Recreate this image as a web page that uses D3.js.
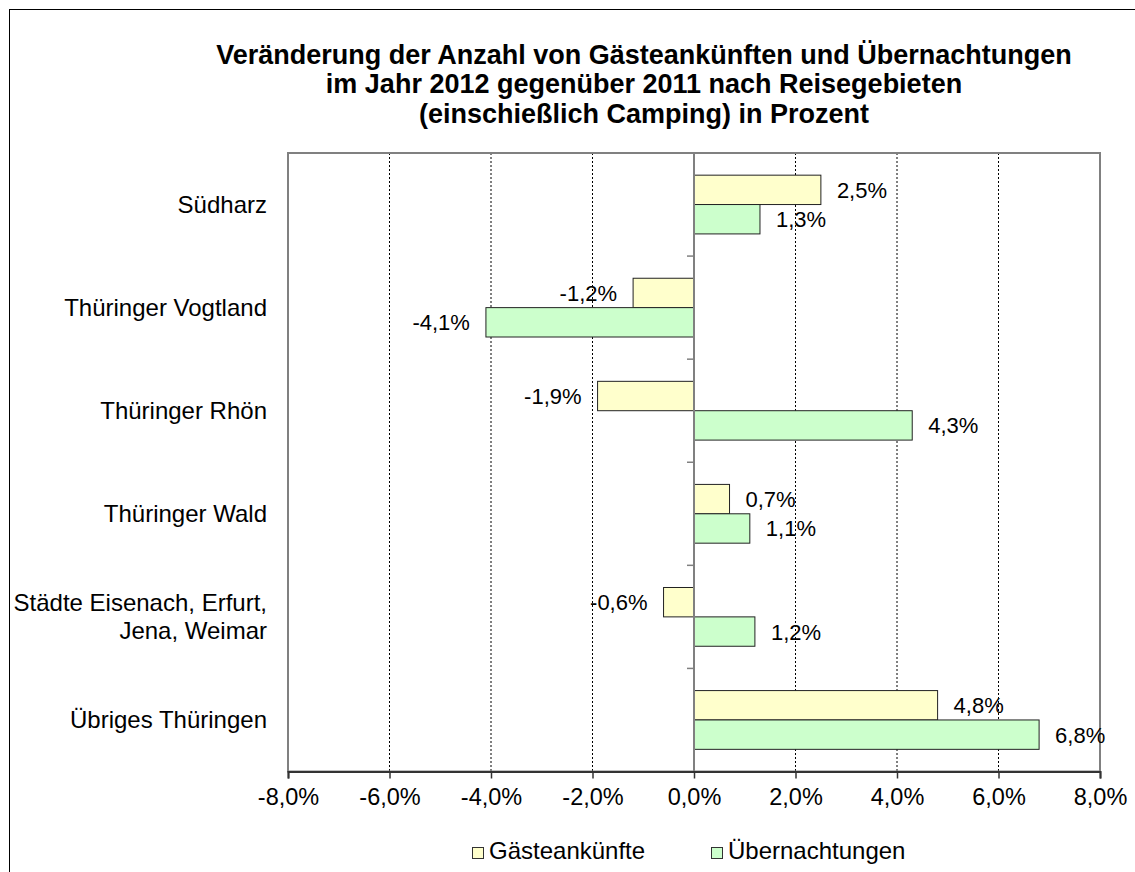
<!DOCTYPE html>
<html>
<head>
<meta charset="utf-8">
<script src="https://cdn.jsdelivr.net/npm/d3@7"></script>
<style>
  body { margin: 0; background: #fff; }
  text { font-family: "Liberation Sans", Arial, sans-serif; fill: #000; }
</style>
</head>
<body>
<div id="chart"></div>
<script>
const categories = [
    ["Südharz"],
    ["Thüringer Vogtland"],
    ["Thüringer Rhön"],
    ["Thüringer Wald"],
    ["Städte Eisenach, Erfurt,", "Jena, Weimar"],
    ["Übriges Thüringen"]
];
const gaesteankuenfte = [2.5, -1.2, -1.9, 0.7, -0.6, 4.8];
const uebernachtungen = [1.3, -4.1, 4.3, 1.1, 1.2, 6.8];
const seriesNames = ["Gästeankünfte", "Übernachtungen"];
const seriesColors = ["#FFFFCC", "#CCFFCC"];
const xTicks = [-8, -6, -4, -2, 0, 2, 4, 6, 8];
const titleLines = [
    "Veränderung der Anzahl von Gästeankünften und Übernachtungen",
    "im Jahr 2012 gegenüber 2011 nach Reisegebieten",
    "(einschießlich Camping) in Prozent"
];

function drawChart() {
    const width = 1135, height = 872;
    const plot = { left: 288, right: 1100, top: 153, bottom: 771.5 };
    const fmt = v => d3.format(".1f")(v).replace(".", ",").replace("−", "-") + "%";

    const svg = d3.select("#chart")
        .append("svg")
        .attr("width", width)
        .attr("height", height)
        .style("display", "block");

    // outer border
    svg.append("rect")
        .attr("x", 9.5).attr("y", 9.5)
        .attr("width", 1140).attr("height", 880)
        .attr("fill", "none")
        .attr("stroke", "#000")
        .attr("stroke-width", 1);

    // title
    svg.append("g")
        .selectAll("text")
        .data(titleLines)
        .enter()
        .append("text")
        .attr("x", 644)
        .attr("y", (d, i) => 63.5 + i * 29.5)
        .attr("text-anchor", "middle")
        .style("font-size", "27px")
        .style("font-weight", "bold")
        .text(d => d);

    const xScale = d3.scaleLinear()
        .domain([-8, 8])
        .range([plot.left, plot.right]);

    const yScale = d3.scaleBand()
        .domain(d3.range(categories.length))
        .range([plot.top, plot.bottom])
        .paddingInner(0.43)
        .paddingOuter(0.215);

    const subScale = d3.scaleBand()
        .domain([0, 1])
        .range([0, yScale.bandwidth()]);

    // gridlines
    svg.append("g")
        .selectAll("line")
        .data(xTicks.filter(t => t !== 0 && Math.abs(t) !== 8))
        .enter()
        .append("line")
        .attr("x1", d => xScale(d)).attr("x2", d => xScale(d))
        .attr("y1", plot.top).attr("y2", plot.bottom)
        .attr("stroke", "#000")
        .attr("stroke-width", 1)
        .attr("stroke-dasharray", "2,2");

    // plot frame
    svg.append("rect")
        .attr("x", plot.left).attr("y", plot.top)
        .attr("width", plot.right - plot.left)
        .attr("height", plot.bottom - plot.top)
        .attr("fill", "none")
        .attr("stroke", "#808080")
        .attr("stroke-width", 2);

    const rows = categories.map((c, i) => ({ i, values: [gaesteankuenfte[i], uebernachtungen[i]] }));
    const bars = rows.flatMap(r => r.values.map((v, s) => ({ i: r.i, s, v })));

    svg.append("g")
        .selectAll("rect")
        .data(bars)
        .enter()
        .append("rect")
        .attr("x", d => xScale(Math.min(0, d.v)))
        .attr("y", d => yScale(d.i) + subScale(d.s))
        .attr("width", d => Math.abs(xScale(d.v) - xScale(0)))
        .attr("height", subScale.bandwidth())
        .attr("fill", d => seriesColors[d.s])
        .attr("stroke", "#222")
        .attr("stroke-width", 1);

    // data labels
    svg.append("g")
        .selectAll("text")
        .data(bars)
        .enter()
        .append("text")
        .attr("x", d => xScale(d.v) + (d.v >= 0 ? 16 : -16))
        .attr("y", d => yScale(d.i) + subScale(d.s) + subScale.bandwidth() / 2 + 8)
        .attr("text-anchor", d => d.v >= 0 ? "start" : "end")
        .style("font-size", "22px")
        .text(d => fmt(d.v));

    // category axis at zero
    const step = yScale.step();
    const boundaries = d3.range(categories.length + 1).map(k => plot.top + k * step);
    svg.append("line")
        .attr("x1", xScale(0)).attr("x2", xScale(0))
        .attr("y1", plot.top).attr("y2", plot.bottom)
        .attr("stroke", "#808080")
        .attr("stroke-width", 2);
    svg.append("g")
        .selectAll("line")
        .data(boundaries.slice(1, -1))
        .enter()
        .append("line")
        .attr("x1", xScale(0) - 7).attr("x2", xScale(0))
        .attr("y1", d => d).attr("y2", d => d)
        .attr("stroke", "#808080")
        .attr("stroke-width", 1.5);

    // category labels
    const catG = svg.append("g")
        .selectAll("text")
        .data(categories)
        .enter()
        .append("text")
        .attr("text-anchor", "end")
        .style("font-size", "24px");
    catG.selectAll("tspan")
        .data((d, i) => d.map((line, j) => ({ line, j, n: d.length, i })))
        .enter()
        .append("tspan")
        .attr("x", 267)
        .attr("y", d => yScale(d.i) + yScale.bandwidth() / 2 + 8 + (d.j - (d.n - 1) / 2) * 28.5)
        .text(d => d.line);

    // x axis
    const xAxis = d3.axisBottom(xScale)
        .tickValues(xTicks)
        .tickSize(7)
        .tickPadding(10)
        .tickFormat(fmt);

    svg.append("g")
        .attr("transform", `translate(0,${plot.bottom})`)
        .call(xAxis)
        .call(g => g.select(".domain").attr("stroke", "#333").attr("stroke-width", 2))
        .call(g => g.selectAll(".tick line").attr("stroke", "#333").attr("stroke-width", 1.5))
        .call(g => g.selectAll("text")
            .attr("fill", "#000")
            .style("font-family", "'Liberation Sans', Arial, sans-serif")
            .style("font-size", "23.5px"));

    // legend
    const legendX = [472, 711];
    const legend = svg.append("g")
        .selectAll("g")
        .data(seriesNames)
        .enter()
        .append("g")
        .attr("transform", (d, i) => `translate(${legendX[i]},847)`);
    legend.append("rect")
        .attr("x", 0.5).attr("y", 0.5)
        .attr("width", 11).attr("height", 11)
        .attr("fill", (d, i) => seriesColors[i])
        .attr("stroke", "#333")
        .attr("stroke-width", 1);
    legend.append("text")
        .attr("x", 17)
        .attr("y", 11.5)
        .style("font-size", "24px")
        .text(d => d);
}

drawChart();
</script>
</body>
</html>
